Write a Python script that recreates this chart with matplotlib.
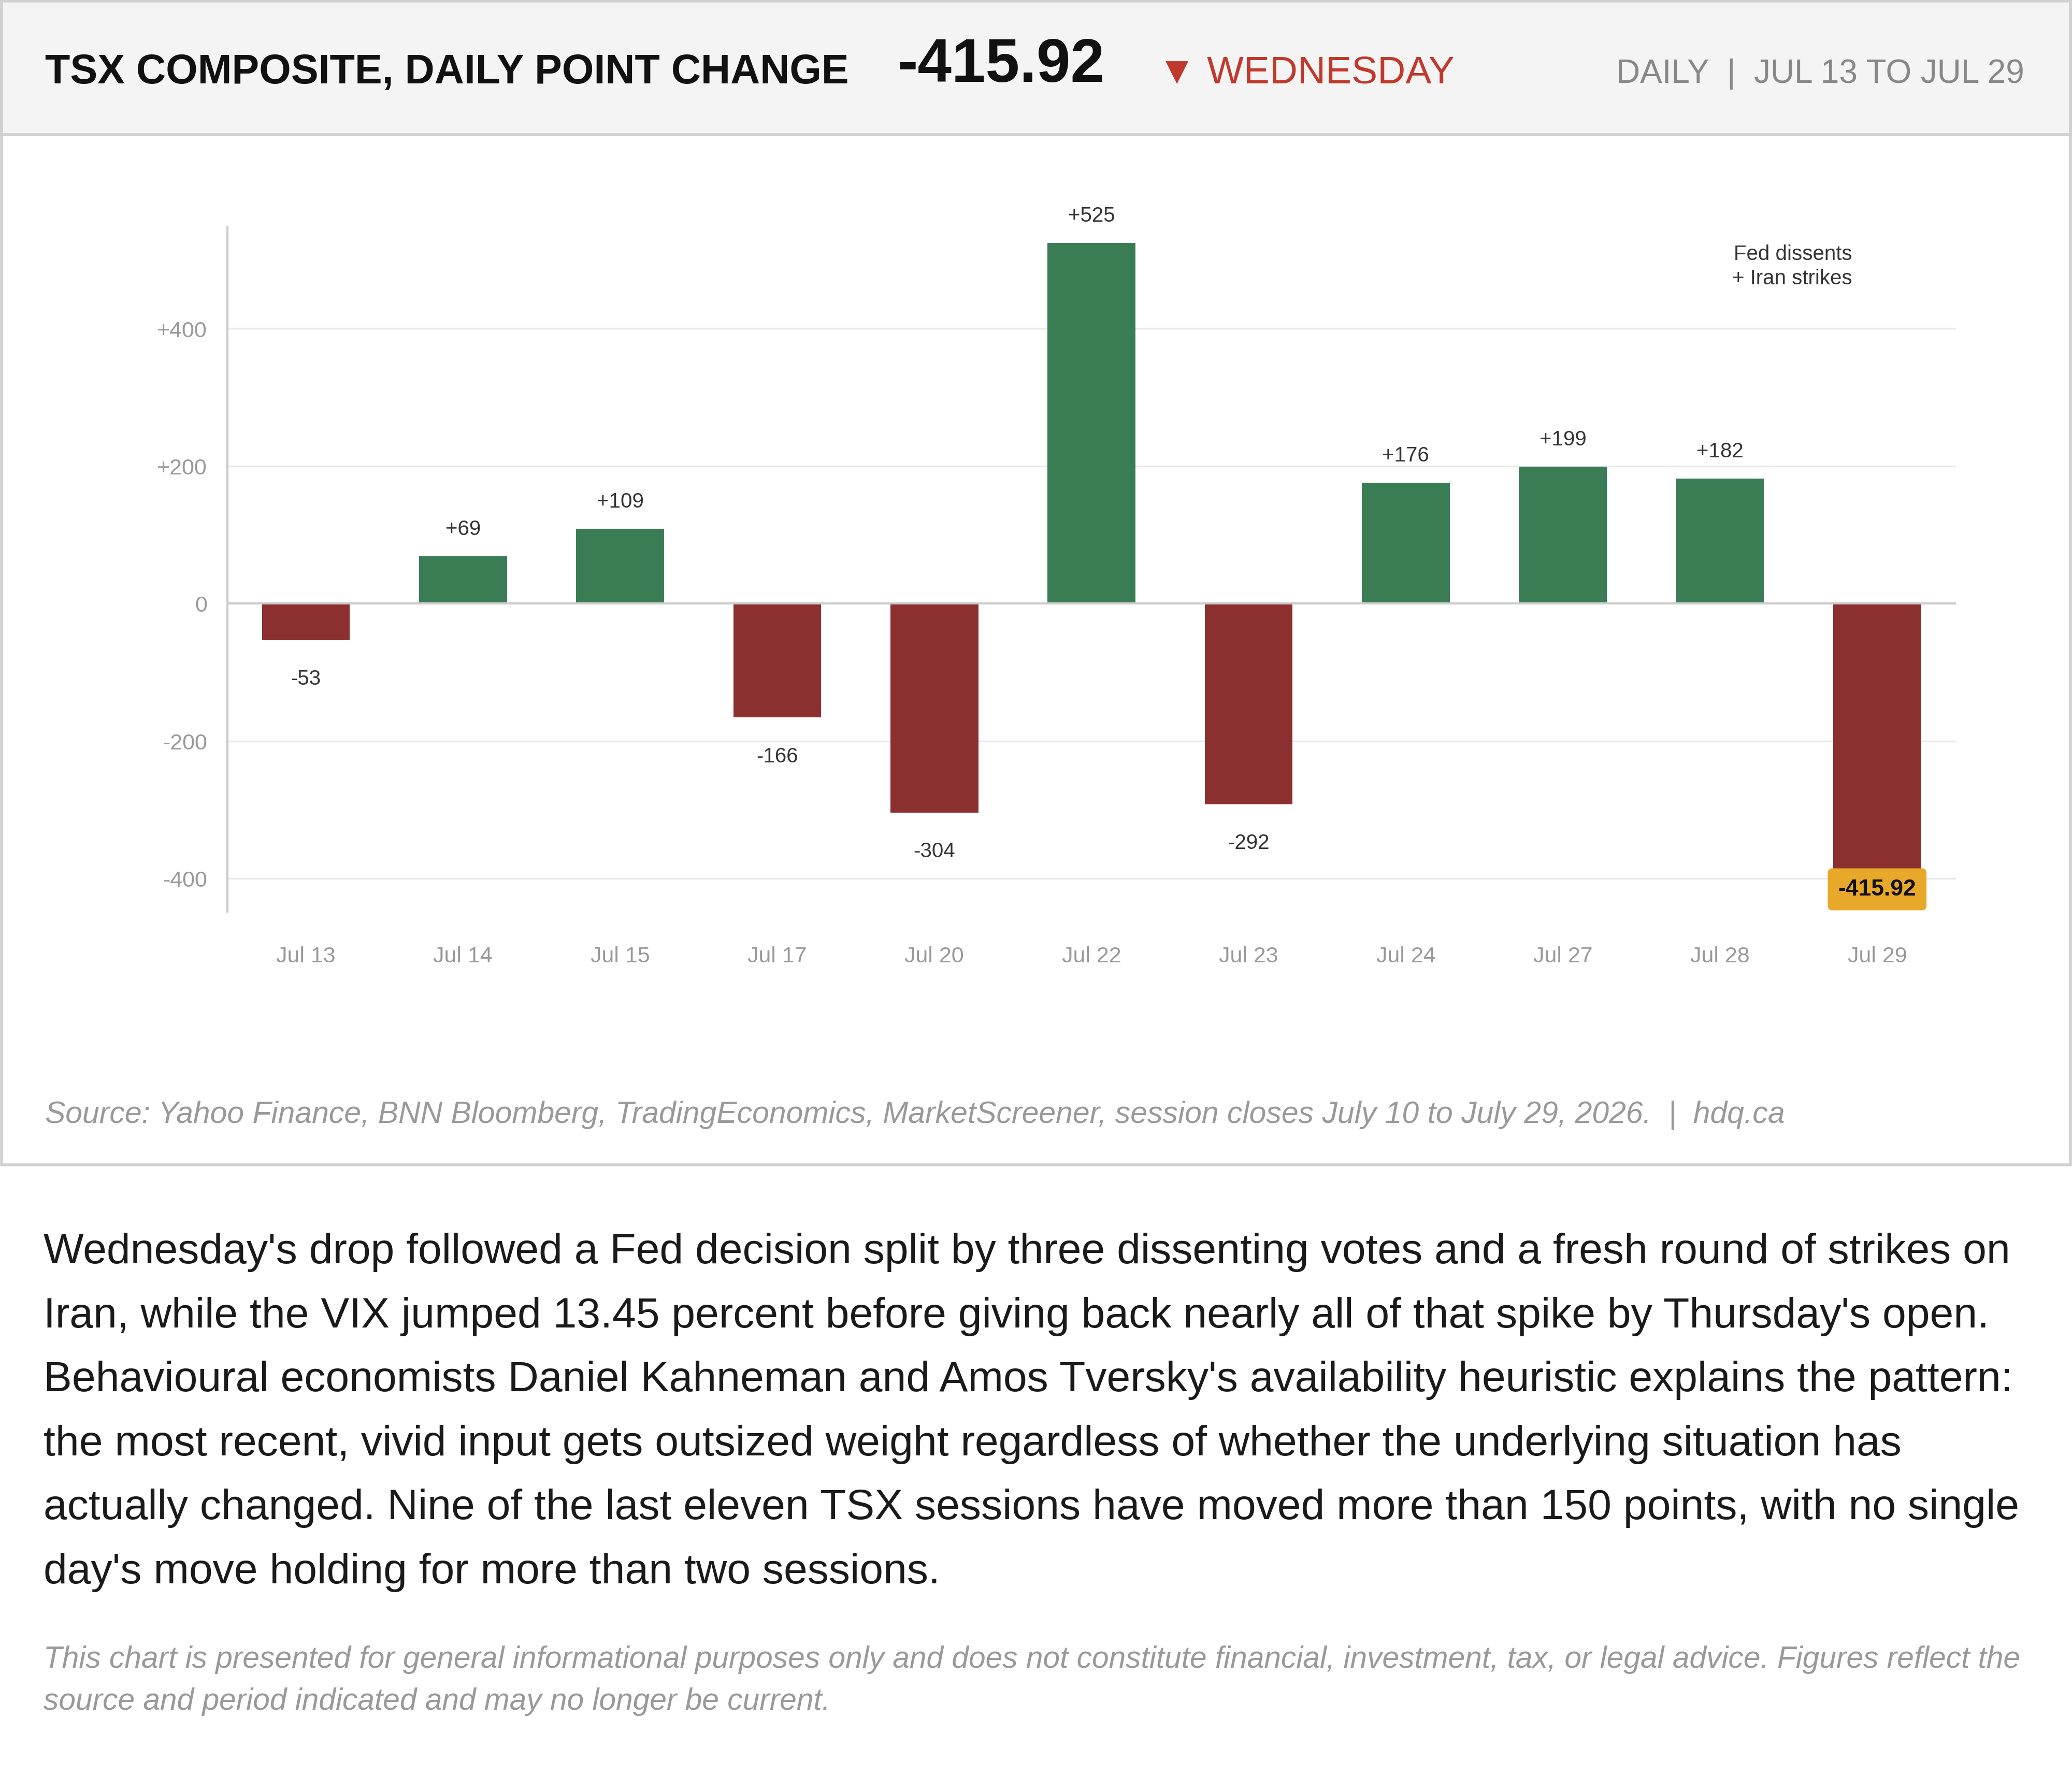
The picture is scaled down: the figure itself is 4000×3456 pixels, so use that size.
import matplotlib
matplotlib.use("Agg")
import matplotlib.pyplot as plt
from matplotlib.patches import Rectangle

plt.rcParams['font.family'] = ['Liberation Sans', 'DejaVu Sans']

dates = ["Jul 13", "Jul 14", "Jul 15", "Jul 17", "Jul 20", "Jul 22", "Jul 23", "Jul 24", "Jul 27", "Jul 28", "Jul 29"]
changes = [-53, 69, 109, -166, -304, 525, -292, 176, 199, 182, -415.92]
yticks = [-400, -200, 0, 200, 400]
ytick_labels = ["-400", "-200", "0", "+200", "+400"]

W, H = 1568, 1355
fig = plt.figure(figsize=(20, 20 * H / W), dpi=200)

def fx(x): return x / W
def fy(y): return 1 - y / H
def T(x, y, s, **kw):
    fig.text(fx(x), fy(y), s, **kw)

# card and header
fig.patches.append(Rectangle((fx(1), fy(882)), fx(1566), 881 / H, transform=fig.transFigure,
                             facecolor='white', edgecolor='#d0d0d0', lw=2, zorder=-5))
fig.patches.append(Rectangle((fx(1), fy(102)), fx(1566), 101 / H, transform=fig.transFigure,
                             facecolor='#f4f4f4', edgecolor='#d0d0d0', lw=2, zorder=-4))
T(34, 55, "TSX COMPOSITE, DAILY POINT CHANGE", fontsize=28.5, fontweight='bold', color='#111', va='center')
T(679, 50, "-415.92", fontsize=42.5, fontweight='bold', color='#111', va='center')
T(876, 55, "▼ WEDNESDAY", fontsize=27, color='#c0392b', va='center')
T(1532, 56, "DAILY  |  JUL 13 TO JUL 29", fontsize=23, color='#888', va='center', ha='right')

ax = fig.add_axes([fx(172), fy(690), (1480 - 172) / W, (690 - 172) / H])
ax.set_zorder(2)
ax.patch.set_alpha(0)
x = list(range(len(dates)))
colors = ['#3a7d55' if v >= 0 else '#8b2f2f' for v in changes]
ax.bar(x, changes, width=0.56, color=colors, zorder=3)
ax.set_xlim(-0.5, 10.5)
ax.set_ylim(-448, 548)
ax.set_yticks(yticks)
ax.set_yticklabels(ytick_labels)
ax.set_xticks(x)
ax.set_xticklabels(dates)
ax.tick_params(axis='both', length=0, labelsize=15.5, colors='#999')
ax.tick_params(axis='x', pad=24)
ax.tick_params(axis='y', pad=14)
ax.grid(axis='y', color='#e8e8e8', lw=1.2, zorder=0)
for s in ['top', 'right', 'bottom']:
    ax.spines[s].set_visible(False)
ax.spines['left'].set_color('#ccc')
ax.spines['left'].set_linewidth(1.5)
ax.axhline(0, color='#ccc', lw=1.5, zorder=4)
for i, v in enumerate(changes):
    if i == len(changes) - 1:
        ax.text(i, v, f"{v:.2f}", ha='center', va='center', fontsize=16, fontweight='bold', color='#111', zorder=6,
                bbox=dict(boxstyle='round,pad=0.45,rounding_size=0.2', fc='#e8a82a', ec='none'))
        continue
    lab = f"+{v}" if v > 0 else f"{v}"
    off = 12 if v > 0 else -20
    ax.annotate(lab, (i, v), xytext=(0, off), textcoords='offset points', ha='center',
                va='bottom' if v > 0 else 'top', fontsize=14.5, color='#333')
ax.text(0.94, 0.975, "Fed dissents\n+ Iran strikes", transform=ax.transAxes, ha='right', va='top',
        fontsize=14.5, color='#333', linespacing=1.3)

T(34, 844, "Source: Yahoo Finance, BNN Bloomberg, TradingEconomics, MarketScreener, session closes July 10 to July 29, 2026.  |  hdq.ca",
  fontsize=21.2, style='italic', color='#999', va='center')

para = ["Wednesday's drop followed a Fed decision split by three dissenting votes and a fresh round of strikes on",
        "Iran, while the VIX jumped 13.45 percent before giving back nearly all of that spike by Thursday's open.",
        "Behavioural economists Daniel Kahneman and Amos Tversky's availability heuristic explains the pattern:",
        "the most recent, vivid input gets outsized weight regardless of whether the underlying situation has",
        "actually changed. Nine of the last eleven TSX sessions have moved more than 150 points, with no single",
        "day's move holding for more than two sessions."]
for k, line in enumerate(para):
    T(33, 948 + k * 48.4, line, fontsize=29.6, color='#1a1a1a', va='center')
disc = ["This chart is presented for general informational purposes only and does not constitute financial, investment, tax, or legal advice. Figures reflect the",
        "source and period indicated and may no longer be current."]
for k, line in enumerate(disc):
    T(33, 1256 + k * 32, line, fontsize=21.1, style='italic', color='#999', va='center')

fig.savefig("out.png", dpi=200, facecolor='white')
